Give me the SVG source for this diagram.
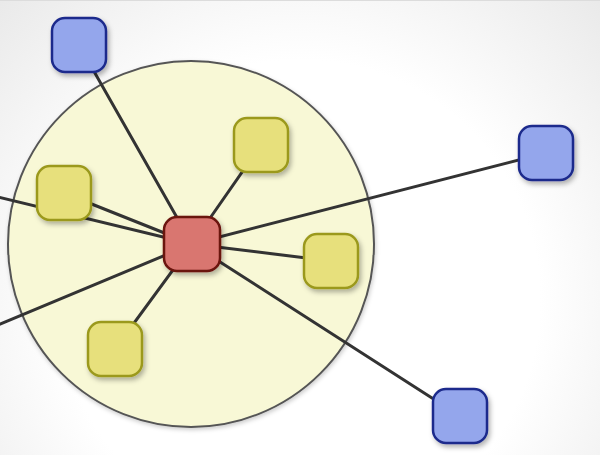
<svg xmlns="http://www.w3.org/2000/svg" width="600" height="455" viewBox="0 0 600 455">
<defs>
<radialGradient id="bg" cx="300" cy="300" r="480" gradientUnits="userSpaceOnUse">
<stop offset="0" stop-color="#ffffff"/>
<stop offset="0.5" stop-color="#ffffff"/>
<stop offset="1" stop-color="#e3e3e3"/>
</radialGradient>
<filter id="sh" x="-30%" y="-30%" width="170%" height="170%">
<feDropShadow dx="2" dy="3" stdDeviation="2.5" flood-color="#000" flood-opacity="0.3"/>
</filter>
<filter id="csh" x="-10%" y="-10%" width="120%" height="120%">
<feDropShadow dx="1" dy="2" stdDeviation="2" flood-color="#000" flood-opacity="0.2"/>
</filter>
</defs>
<style>
.edge{stroke:#333;stroke-width:3;fill:none;stroke-linecap:round}
.node{filter:url(#sh)}
.y{fill:#e7e07b;stroke:#9b991f;stroke-width:2.5}
.b{fill:#94a6ec;stroke:#1d2b8c;stroke-width:2.5}
.r{fill:#d9766f;stroke:#6a1210;stroke-width:2.5}
</style>
<rect x="0" y="0" width="600" height="455" fill="url(#bg)"/>
<line x1="0" y1="0.5" x2="600" y2="0.5" stroke="#dcdcdc" stroke-width="1"/>
<g id="cluster">
<circle cx="191" cy="244" r="183" fill="#f8f8d6" stroke="#555" stroke-width="2" filter="url(#csh)"/>
</g>
<g id="connectors">
<line class="edge" x1="192" y1="244" x2="79" y2="45"/>
<line class="edge" x1="192" y1="244" x2="261" y2="145"/>
<line class="edge" x1="192" y1="244" x2="546" y2="153"/>
<line class="edge" x1="192" y1="244" x2="331" y2="261"/>
<line class="edge" x1="192" y1="244" x2="460" y2="416"/>
<line class="edge" x1="192" y1="244" x2="115" y2="349"/>
<line class="edge" x1="192" y1="244" x2="64" y2="193"/>
<line class="edge" x1="192" y1="244" x2="-2" y2="197"/>
<line class="edge" x1="192" y1="244" x2="-2" y2="325"/>
</g>
<g id="node-blue-1" class="node"><rect class="b" x="52" y="18" width="54" height="54" rx="13"/></g>
<g id="node-blue-2" class="node"><rect class="b" x="519" y="126" width="54" height="54" rx="13"/></g>
<g id="node-blue-3" class="node"><rect class="b" x="433" y="389" width="54" height="54" rx="13"/></g>
<g id="node-yellow-1" class="node"><rect class="y" x="234" y="118" width="54" height="54" rx="13"/></g>
<g id="node-yellow-2" class="node"><rect class="y" x="37" y="166" width="54" height="54" rx="13"/></g>
<g id="node-yellow-3" class="node"><rect class="y" x="304" y="234" width="54" height="54" rx="13"/></g>
<g id="node-yellow-4" class="node"><rect class="y" x="88" y="322" width="54" height="54" rx="13"/></g>
<g id="node-center" class="node"><rect class="r" x="164" y="217" width="56" height="54" rx="13"/></g>
</svg>
